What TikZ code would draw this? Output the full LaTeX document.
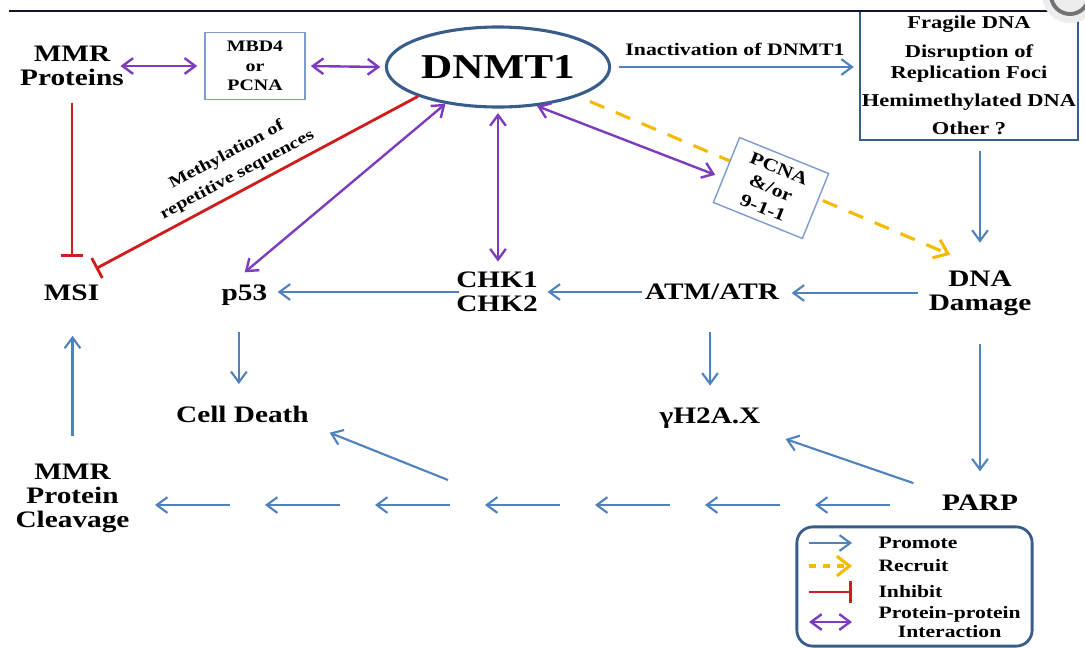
\documentclass[tikz,border=0pt]{standalone}
\usepackage{fontspec}
\setmainfont{Liberation Serif}[FakeStretch=1.24]
\usetikzlibrary{positioning}
\usetikzlibrary{calc}
\usetikzlibrary{arrows.meta}
\usetikzlibrary{shapes.geometric}
\definecolor{promoteblue}{RGB}{79,129,189}
\definecolor{ppipurple}{RGB}{125,60,190}
\definecolor{inhibitred}{RGB}{208,28,28}
\definecolor{recruitgold}{RGB}{245,185,0}
\definecolor{framenavy}{RGB}{56,93,138}
\definecolor{boxblue}{RGB}{125,155,205}
\definecolor{topnavy}{RGB}{20,20,45}
\newcommand{\fsz}[2]{\fontsize{#1}{#2}\selectfont\bfseries}

\tikzset{
	mol/.style={font=\fsz{8.4}{8.4}, align=center, inner sep=1pt},
	lbl/.style={font=\fsz{6.25}{7.5}, text=black, align=center, inner sep=1pt},
	legtxt/.style={font=\fsz{6.2}{6.8}, align=center, inner sep=0pt, anchor=west},
	smallbox/.style={draw=boxblue, fill=white, line width=0.5pt, align=center, font=\fsz{5.7}{7}, inner sep=0pt},
	barb/.tip={Straight Barb[length=3.8pt,width=5.6pt]},
	promote/.style={promoteblue, line width=0.75pt, -barb},
	ppi/.style={ppipurple, line width=0.85pt, barb-barb},
	inhibit/.style={inhibitred, line width=1pt, -{Bar[width=8pt]}},
	recruit/.style={recruitgold, line width=1.1pt, dash pattern=on 5.5pt off 4.5pt, -{Straight Barb[length=4.5pt,width=7pt]}},
	legrecruit/.style={recruit, dash pattern=on 2.6pt off 2.4pt},
}

\begin{document}
\begin{tikzpicture}[x=0.0125cm, y=-0.0125cm]
	\useasboundingbox (0,0) rectangle (1085,647);
	\clip (0,0) rectangle (1085,647);

	\node[mol] (mmr) at (72,66) {MMR\\Proteins};
	\node[smallbox, minimum width=1.25cm, minimum height=0.84cm] (mbd) at (255,66) {MBD4\\or\\PCNA};
	\node[ellipse, draw=framenavy, line width=1.1pt, minimum width=2.79cm, minimum height=1cm, inner sep=0pt, font=\fsz{12.4}{12.4}] (dnmt) at (498,67) {DNMT1};
	\node[draw=framenavy, line width=0.8pt, fill=white, minimum width=2.725cm, minimum height=1.6125cm, align=center, inner sep=0pt, font=\fsz{6.45}{7.5}] (factors) at (969,75.5) {Fragile DNA\\[2.5pt]Disruption of\\Replication Foci\\[2.5pt]Hemimethylated DNA\\[2.5pt]Other ?};
	\node[mol] (msi) at (71.5,293) {MSI};
	\node[mol] (p53) at (244.5,295.6) {p53};
	\node[mol] (chk) at (497,292) {CHK1\\CHK2};
	\node[mol] (atm) at (712,292) {ATM/ATR};
	\node[mol] (damage) at (980,293) {DNA\\Damage};
	\node[mol] (death) at (242.5,414) {Cell Death};
	\node[mol] (gamma) at (710,417.8) {γH2A.X};
	\node[mol] (parp) at (980,503) {PARP};
	\node[mol] (cleave) at (72.5,498.3) {MMR\\Protein\\Cleavage};

	\draw[recruit, shorten <=4.6pt, shorten >=11.5pt] (dnmt.south east) -- (damage.north);
	\node[smallbox, rotate=-22, minimum width=1.2cm, minimum height=0.875cm, font=\fsz{6.3}{7.6}] (pcna) at (771,188) {PCNA\\\&/or\\9-1-1};

	\draw[ppi, shorten <=-2.4pt, shorten >=2.5pt] (mmr.east) -- (mbd.west);
	\draw[ppi, shorten <=1.8pt, shorten >=1.6pt] (mbd.east) -- (dnmt.west);
	\draw[promote, shorten <=2.6pt, shorten >=1.8pt] (dnmt.east) -- node[lbl, above=2.5pt] (inact) {Inactivation of DNMT1} (dnmt.east -| factors.west);
	\draw[promote, shorten <=3.6pt, shorten >=8.8pt] (damage.north |- factors.south) -- (damage.north);
	\draw[inhibit, shorten <=4.8pt, shorten >=8.7pt] (mmr.south) -- (mmr.south |- msi.north);
	\draw[inhibit, shorten >=9.8pt] (dnmt.south west) -- node[lbl, sloped, above=1.5pt, font=\fsz{5.8}{8}] (methyl) {Methylation of\\repetitive sequences} (msi.north);
	\draw[ppi, shorten >=5.3pt] (dnmt.215) -- ([xshift=-4pt]p53.north);
	\draw[ppi, shorten <=1.6pt, shorten >=2.6pt] (dnmt.south) -- (dnmt.south |- chk.north);
	\draw[ppi, shorten >=2.8pt] (dnmt.-45) -- (pcna.190);

	\draw[promote, shorten <=2.8pt, shorten >=3.3pt] (damage.west) -- (damage.west -| atm.east);
	\draw[promote, shorten >=2.3pt] (atm.west) -- (chk.east);
	\draw[promote, shorten <=-2pt, shorten >=2.5pt] (chk.west) -- (chk.west -| p53.east);
	\draw[promote, shorten <=8.2pt, shorten >=6.5pt] ([xshift=-2pt]p53.south) -- ([xshift=-2pt]p53.south |- death.north);
	\draw[promote, shorten <=10.3pt, shorten >=6.6pt] (gamma.north |- atm.south) -- (gamma.north);
	\draw[promote, shorten <=9.2pt, shorten >=7.3pt] (damage.south) -- (damage.south |- parp.north);
	\draw[promote, shorten <=9.5pt, shorten >=8.2pt] (parp.north west) -- (gamma.south east);
	\draw[promote, shorten <=8.8pt, shorten >=11.2pt] (cleave.north) -- (cleave.north |- msi.south);

	\foreach \i in {0,...,6} {
		\coordinate (tip\i) at (155+110*\i,505);
		\coordinate (tail\i) at (230+110*\i,505);
		\draw[promote] (tail\i) -- (tip\i);
	}
	\coordinate (cdfrom) at (448,480);
	\draw[promote, shorten >=6.7pt] (cdfrom) -- (death.south east);

	\node[draw=framenavy, line width=1pt, rounded corners=2mm, minimum width=2.94cm, minimum height=1.49cm] (legend) at (914.5,586.5) {};
	\foreach \ly/\lsty/\ltxt [count=\k] in {543/promote/Promote, 566/legrecruit/Recruit, 592/inhibit/Inhibit, 622/ppi/{Protein-protein\\Interaction}} {
		\coordinate (lega\k) at (809,\ly);
		\coordinate (legb\k) at (852,\ly);
		\draw[\lsty] (lega\k) -- (legb\k);
		\node[legtxt] (legt\k) at (878,\ly) {\ltxt};
	}

	\draw[topnavy, line width=0.8pt] (9,11) -- (1085,11);
	\fill[black!7] (1070,-5) circle (28);
	\draw[black!55, line width=1.4pt] (1070,-5) circle (19);
\end{tikzpicture}
\end{document}
